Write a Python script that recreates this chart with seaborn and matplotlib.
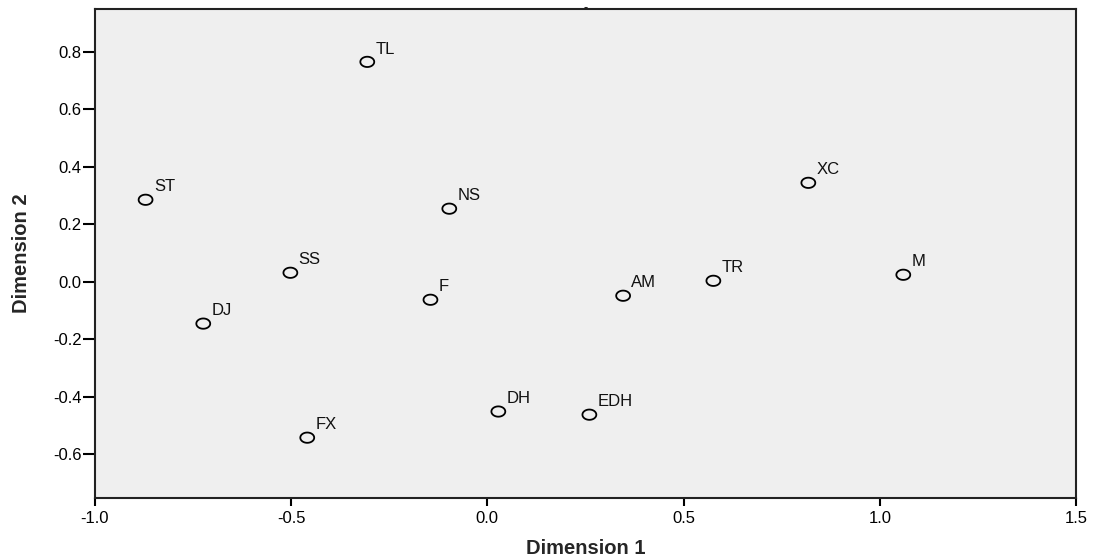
import numpy as np
import pandas as pd
import matplotlib
matplotlib.use("Agg")
import matplotlib.pyplot as plt
from matplotlib.path import Path
import seaborn as sns

# ── Data ─────────────────────────────────────────────────────
labels = ["TL", "ST", "NS", "XC", "SS", "F", "AM", "TR", "M",
          "DJ", "DH", "EDH", "FX"]
dim1 = [-0.306, -0.871, -0.097, 0.818, -0.502, -0.145, 0.346, 0.576, 1.060,
        -0.724, 0.028, 0.260, -0.459]
dim2 = [0.765, 0.285, 0.254, 0.344, 0.031, -0.063, -0.049, 0.003, 0.024,
        -0.146, -0.452, -0.463, -0.543]
x_ticks = [-1.0, -0.5, 0.0, 0.5, 1.0, 1.5]
y_ticks = [-0.6, -0.4, -0.2, 0.0, 0.2, 0.4, 0.6, 0.8]

df = pd.DataFrame({"Dimension 1": dim1, "Dimension 2": dim2, "label": labels})

sns.set_style("white")
plt.rcParams["font.family"] = ["Liberation Sans", "DejaVu Sans"]

# slightly wide ellipse marker (reference is stretched horizontally)
t = np.linspace(0, 2 * np.pi, 60)
ell = Path(np.column_stack([1.35 * np.cos(t), np.sin(t)]), closed=True)

fig = plt.figure(figsize=(10.94, 5.59), dpi=100)
ax = fig.add_axes([0.0868, 0.1091, 0.8967, 0.8748])
ax.set_facecolor("#efefef")

sns.scatterplot(data=df, x="Dimension 1", y="Dimension 2", ax=ax,
                marker=ell, s=100, facecolors="none", edgecolor="black",
                linewidth=1.3, zorder=3)

for _, r in df.iterrows():
    ax.annotate(r["label"], (r["Dimension 1"], r["Dimension 2"]),
                xytext=(6, 6), textcoords="offset points",
                fontsize=12, color="#111111")

ax.set_xlim(-1.0, 1.5)
ax.set_ylim(-0.753, 0.949)
ax.set_xticks(x_ticks)
ax.set_xticklabels([f"{v:.1f}" for v in x_ticks])
ax.set_yticks(y_ticks)
ax.set_yticklabels([f"{v:.1f}" for v in y_ticks])
ax.tick_params(axis="both", direction="out", width=1.5, colors="black",
               labelsize=12, bottom=True, left=True)
ax.tick_params(axis="x", length=6, pad=3)
ax.tick_params(axis="y", length=8.5, pad=1)

for sp in ax.spines.values():
    sp.set_color("#222222")
    sp.set_linewidth(1.5)

ax.set_xlabel("Dimension 1", fontsize=14.5, fontweight="bold", labelpad=10)
ax.set_ylabel("Dimension 2", fontsize=14.5, fontweight="bold", labelpad=16)
ax.set_title("-", fontsize=9, fontweight="bold", pad=-1)

fig.savefig("out.png", dpi=100)
